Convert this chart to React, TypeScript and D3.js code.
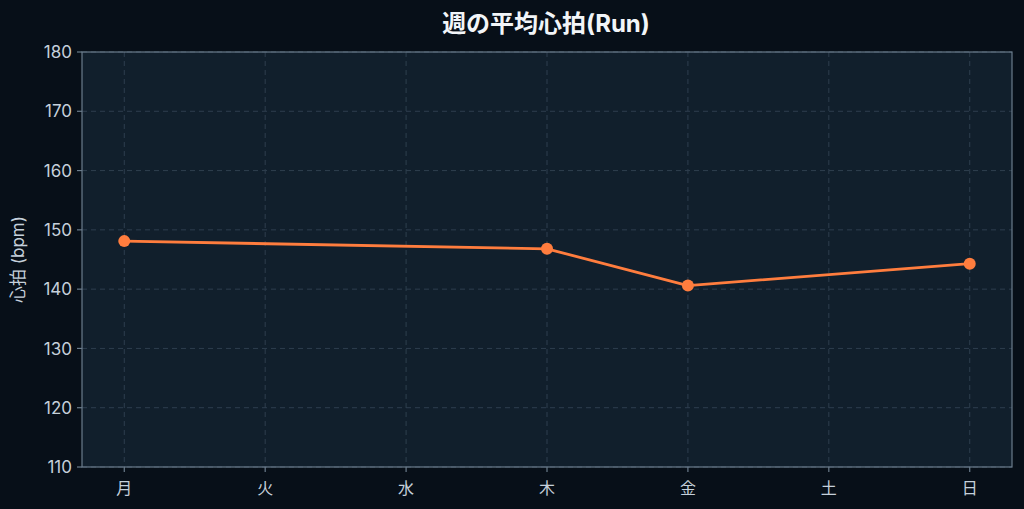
import React from "react";
import * as d3 from "d3";

const days: string[] = ["月", "火", "水", "木", "金", "土", "日"];
const heartRate: (number | null)[] = [148.1, null, null, 146.8, 140.6, null, 144.3];
const yTicks: number[] = [110, 120, 130, 140, 150, 160, 170, 180];
const title = "週の平均心拍(Run)";
const yLabel = "心拍 (bpm)";

const W = 1024, H = 509;
const M = { left: 82, right: 1012, top: 52, bottom: 467 };
const FONT = "Inter, 'Noto Sans CJK JP', sans-serif";

export default function App() {
  const x = d3.scalePoint<string>().domain(days).range([M.left, M.right]).padding(0.3);
  const y = d3.scaleLinear().domain([110, 180]).range([M.bottom, M.top]);
  const pts = days
    .map((d, i) => ({ d, v: heartRate[i] }))
    .filter((p) => p.v !== null) as { d: string; v: number }[];
  const line = d3.line<{ d: string; v: number }>().x((p) => x(p.d)!).y((p) => y(p.v));
  const axisColor = "#6b7c8c";
  const textColor = "#c5d0db";
  const gridColor = "#2e3e4e";
  return (
    <div style={{ width: W, height: H, position: "absolute", left: 0, top: 0 }}>
      <svg width={W} height={H} style={{ display: "block", fontFamily: FONT }}>
        <rect x={0} y={0} width={W} height={H} fill="#070f18" />
        <rect x={M.left} y={M.top} width={M.right - M.left} height={M.bottom - M.top} fill="#111f2c" />
        {yTicks.map((t) => (
          <line key={"gy" + t} x1={M.left} x2={M.right} y1={y(t)} y2={y(t)} stroke={gridColor} strokeDasharray="5,4" strokeWidth={1} />
        ))}
        {days.map((d) => (
          <line key={"gx" + d} x1={x(d)} x2={x(d)} y1={M.top} y2={M.bottom} stroke={gridColor} strokeDasharray="5,4" strokeWidth={1} />
        ))}
        <rect x={M.left} y={M.top} width={M.right - M.left} height={M.bottom - M.top} fill="none" stroke={axisColor} strokeWidth={1.2} />
        {yTicks.map((t) => (
          <g key={"ty" + t}>
            <line x1={M.left - 5} x2={M.left} y1={y(t)} y2={y(t)} stroke={axisColor} strokeWidth={1.2} />
            <text x={M.left - 10} y={y(t)} dy="0.36em" textAnchor="end" fontSize={17} fill={textColor}>{t}</text>
          </g>
        ))}
        {days.map((d) => (
          <g key={"tx" + d}>
            <line x1={x(d)} x2={x(d)} y1={M.bottom} y2={M.bottom + 5} stroke={axisColor} strokeWidth={1.2} />
            <text x={x(d)} y={M.bottom + 21} dy="0.36em" textAnchor="middle" fontSize={16} fill={textColor}>{d}</text>
          </g>
        ))}
        <text transform={`translate(18,${(M.top + M.bottom) / 2}) rotate(-90)`} textAnchor="middle" dy="0.36em" fontSize={17} fill={textColor}>{yLabel}</text>
        <text x={(M.left + M.right) / 2 - 1} y={23} dy="0.36em" textAnchor="middle" fontSize={24} fontWeight="bold" fill="#f2f5f8">{title}</text>
        <path d={line(pts) || ""} fill="none" stroke="#ff7d3e" strokeWidth={2.8} strokeLinejoin="round" />
        {pts.map((p) => (
          <circle key={"c" + p.d} cx={x(p.d)} cy={y(p.v)} r={6} fill="#ff7d3e" />
        ))}
      </svg>
    </div>
  );
}
